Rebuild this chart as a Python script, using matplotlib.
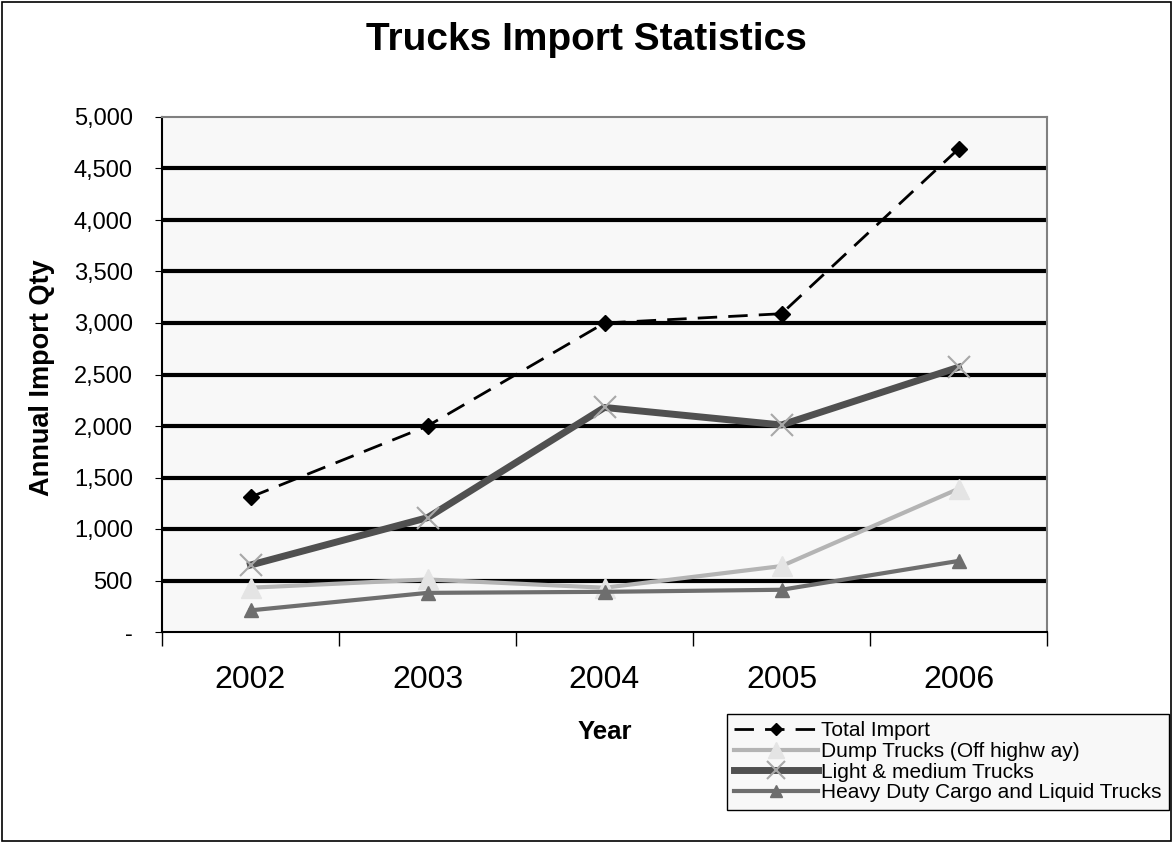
import matplotlib.pyplot as plt
from matplotlib.ticker import FuncFormatter, FixedLocator, NullFormatter

plt.rcParams['font.family'] = ['Liberation Sans', 'DejaVu Sans']

years = ["2002", "2003", "2004", "2005", "2006"]
total_import = [1310, 2000, 3000, 3090, 4690]
dump_trucks = [430, 510, 430, 640, 1390]
light_medium = [650, 1110, 2180, 2010, 2570]
heavy_duty = [210, 380, 390, 410, 690]


def fmt_y(v, pos):
    if v == 0:
        return "-"
    return f"{int(v):,}"


def make_figure():
    fig = plt.figure(figsize=(11.73, 8.43), dpi=100, facecolor="white")
    # outer chart frame
    fig.patches.append(plt.Rectangle((0.002, 0.002), 0.996, 0.996, transform=fig.transFigure,
                                     fill=False, edgecolor="black", linewidth=1.2))
    ax = fig.add_axes([162 / 1173, 1 - 632 / 843, 885 / 1173, 515 / 843], facecolor="#f8f8f8")
    x = list(range(len(years)))

    ax.plot(x, total_import, color="black", linestyle=(0, (7, 4)), linewidth=2,
            marker="D", markersize=8, label="Total Import", zorder=5)
    ax.plot(x, dump_trucks, color="#b4b4b4", linewidth=3, marker="^", markersize=15,
            markerfacecolor="#e4e4e4", markeredgecolor="#e4e4e4",
            label="Dump Trucks (Off highw ay)", zorder=3)
    ax.plot(x, light_medium, color="#505050", linewidth=5, marker="x", markersize=16,
            markeredgecolor="#a8a8a8", markeredgewidth=1.5,
            label="Light & medium Trucks", zorder=4)
    ax.plot(x, heavy_duty, color="#6e6e6e", linewidth=3, marker="^", markersize=10,
            markerfacecolor="#6e6e6e", label="Heavy Duty Cargo and Liquid Trucks", zorder=3)

    ax.set_xlim(-0.5, len(years) - 0.5)
    ax.set_ylim(0, 5000)
    ax.set_yticks(range(0, 5001, 500))
    ax.yaxis.set_major_formatter(FuncFormatter(fmt_y))
    for v in range(500, 5000, 500):
        ax.axhline(v, color="black", linewidth=3, zorder=1)

    ax.xaxis.set_major_locator(FixedLocator([i - 0.5 for i in range(len(years) + 1)]))
    ax.xaxis.set_major_formatter(NullFormatter())
    ax.xaxis.set_minor_locator(FixedLocator(x))
    ax.set_xticklabels(years, minor=True)
    ax.tick_params(axis="x", which="major", length=10, width=1)
    ax.tick_params(axis="x", which="minor", length=0, labelsize=23, pad=24)
    ax.tick_params(axis="y", length=5, labelsize=17, pad=16)

    for s in ax.spines.values():
        s.set_color("#808080")
        s.set_linewidth(1.5)
    ax.spines["left"].set_color("black")
    ax.spines["bottom"].set_color("black")

    fig.text(586 / 1173, 1 - 40 / 843, "Trucks Import Statistics", ha="center", va="center",
             fontsize=28, fontweight="bold")
    ax.set_ylabel("Annual Import Qty", fontsize=19.5, fontweight="bold")
    ax.yaxis.set_label_coords((55 - 162) / 885, 0.494)
    fig.text(605 / 1173, 1 - 732 / 843, "Year", ha="center", va="center",
             fontsize=18.5, fontweight="bold")

    leg = fig.legend(loc="upper left", bbox_to_anchor=(727 / 1173, 1 - 714 / 843),
                     fontsize=15, frameon=True, fancybox=False, edgecolor="black",
                     facecolor="#f8f8f8", framealpha=1, handlelength=4.0,
                     labelspacing=0.08, borderpad=0.35, handletextpad=0.15, borderaxespad=0,
                     markerscale=0.8)
    leg.get_frame().set_linewidth(1)

    fig.savefig("out.png", dpi=100)


def main():
    make_figure()


if __name__ == "__main__":
    main()
